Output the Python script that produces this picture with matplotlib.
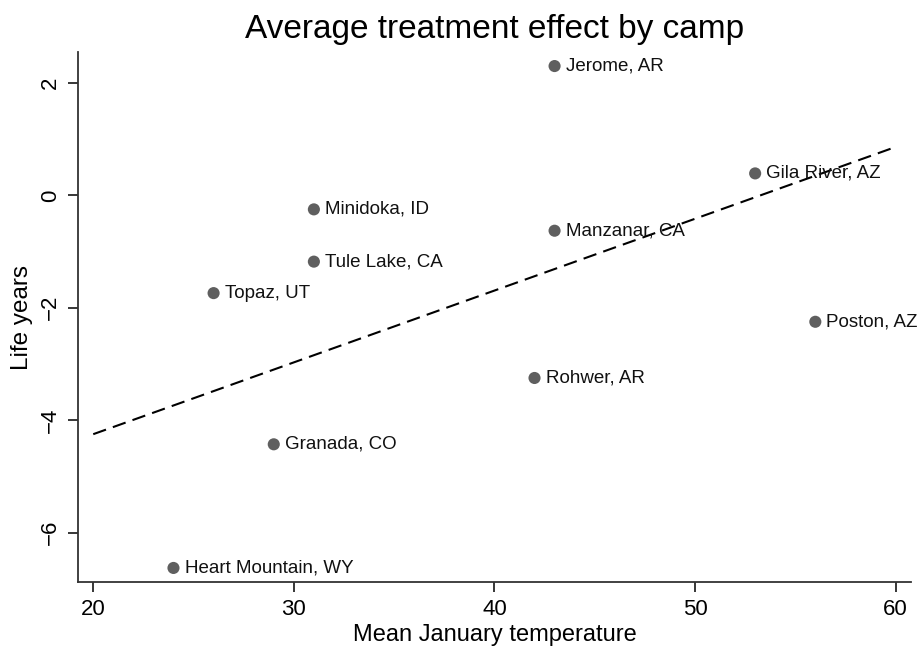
import matplotlib

matplotlib.use("Agg")
import matplotlib.pyplot as plt
import numpy as np

# Camp data
campNames = [
    "Jerome, AR",
    "Gila River, AZ",
    "Minidoka, ID",
    "Manzanar, CA",
    "Tule Lake, CA",
    "Topaz, UT",
    "Poston, AZ",
    "Rohwer, AR",
    "Granada, CO",
    "Heart Mountain, WY",
]
janTemps = [43, 53, 31, 43, 31, 26, 56, 42, 29, 24]
lifeYears = [2.30, 0.39, -0.25, -0.63, -1.18, -1.74, -2.25, -3.25, -4.43, -6.63]

# Fitted line endpoints as drawn
fitX = [20, 60]
fitY = [-4.25, 0.86]

xTicks = [20, 30, 40, 50, 60]
yTicks = [-6, -4, -2, 0, 2]

plt.rcParams["font.family"] = ["Liberation Sans", "DejaVu Sans"]

fig = plt.figure(figsize=(9.24, 6.49), dpi=100)
ax = fig.add_axes([78 / 924, 1 - 582 / 649, (911 - 78) / 924, (582 - 52) / 649])

ax.plot(fitX, fitY, color="black", linestyle=(0, (6.5, 3.5)), linewidth=1.5, zorder=2)
ax.scatter(janTemps, lifeYears, s=76, color="#5f5f5f", edgecolors="none", zorder=3)
for name, xVal, yVal in zip(campNames, janTemps, lifeYears):
    ax.annotate(
        name,
        (xVal, yVal),
        xytext=(8, 0),
        textcoords="offset points",
        va="center",
        ha="left",
        fontsize=13.5,
        color="#111111",
        zorder=4,
    )

ax.set_xlim(19.24, 60.77)
ax.set_ylim(-6.88, 2.55)
ax.set_xticks(xTicks)
ax.set_yticks(yTicks)
ax.set_yticklabels([f"{t}".replace("-", "\u2212") for t in yTicks], rotation=90, va="center")
ax.tick_params(axis="both", direction="out", length=7, width=1.1, labelsize=16)
ax.tick_params(axis="x", pad=5)
ax.tick_params(axis="y", pad=5)
for side in ["top", "right"]:
    ax.spines[side].set_visible(False)
for side in ["left", "bottom"]:
    ax.spines[side].set_linewidth(1.3)
    ax.spines[side].set_color("#333333")

ax.set_xlabel("Mean January temperature", fontsize=17, labelpad=3)
ax.set_ylabel("Life years", fontsize=17.5, labelpad=5)
ax.set_title("Average treatment effect by camp", fontsize=24, pad=10)

fig.savefig("out.png", dpi=100)
